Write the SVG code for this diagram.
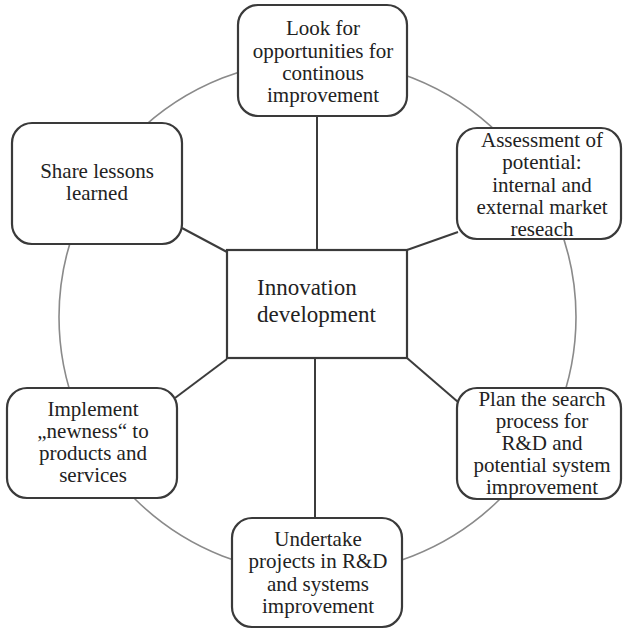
<svg xmlns="http://www.w3.org/2000/svg" width="623" height="630" viewBox="0 0 623 630">
  <style>
    .ring { fill: none; stroke: #8a8a8a; stroke-width: 1.6; }
    .box { fill: #fff; stroke: #3a3a3a; stroke-width: 2.2; }
    .link { fill: none; stroke: #3c3c3c; stroke-width: 2; }
    text { font-family: "Liberation Serif", Tinos, "Times New Roman", Times, "Nimbus Roman", "Noto Serif", "DejaVu Serif", FreeSerif, serif; font-size: 21px; fill: #222; text-anchor: middle; }
    .core { font-size: 23px; text-anchor: start; }
  </style>

  <!-- cycle ring behind everything -->
  <ellipse class="ring" cx="317.5" cy="317" rx="258.5" ry="257"/>

  <!-- spokes from the hub to each stage -->
  <g id="connectors">
    <line class="link" x1="317" y1="116" x2="317" y2="250"/>
    <line class="link" x1="407" y1="250" x2="458" y2="232"/>
    <line class="link" x1="407" y1="358" x2="458" y2="402"/>
    <line class="link" x1="315" y1="358" x2="315" y2="518"/>
    <line class="link" x1="227" y1="359" x2="175" y2="398"/>
    <line class="link" x1="227" y1="252" x2="182" y2="228"/>
  </g>

  <g id="hub">
    <rect class="box" x="227" y="250" width="180" height="108"/>
    <text class="core" x="257" y="295">Innovation</text>
    <text class="core" x="257" y="322">development</text>
  </g>

  <g id="look">
    <rect class="box" x="238" y="5" width="169" height="111" rx="20"/>
    <text x="323" y="35">Look for</text>
    <text x="323" y="58">opportunities for</text>
    <text x="323" y="80">continous</text>
    <text x="323" y="102">improvement</text>
  </g>

  <g id="assess">
    <rect class="box" x="457" y="128" width="164" height="111" rx="20"/>
    <text x="542" y="147">Assessment of</text>
    <text x="542" y="169">potential:</text>
    <text x="542" y="192">internal and</text>
    <text x="542" y="214">external market</text>
    <text x="542" y="236">reseach</text>
  </g>

  <g id="plan">
    <rect class="box" x="457" y="388" width="164" height="111" rx="20"/>
    <text x="542" y="406">Plan the search</text>
    <text x="542" y="428">process for</text>
    <text x="542" y="450">R&amp;D and</text>
    <text x="542" y="472">potential system</text>
    <text x="542" y="494">improvement</text>
  </g>

  <g id="undertake">
    <rect class="box" x="232" y="518" width="170" height="109" rx="20"/>
    <text x="318" y="546">Undertake</text>
    <text x="318" y="568">projects in R&amp;D</text>
    <text x="318" y="591">and systems</text>
    <text x="318" y="613">improvement</text>
  </g>

  <g id="implement">
    <rect class="box" x="7" y="388" width="170" height="110" rx="20"/>
    <text x="93" y="416">Implement</text>
    <text x="93" y="438">„newness“ to</text>
    <text x="93" y="460">products and</text>
    <text x="93" y="482">services</text>
  </g>

  <g id="share">
    <rect class="box" x="12" y="123" width="170" height="121" rx="20"/>
    <text x="97" y="178">Share lessons</text>
    <text x="97" y="200">learned</text>
  </g>
</svg>
